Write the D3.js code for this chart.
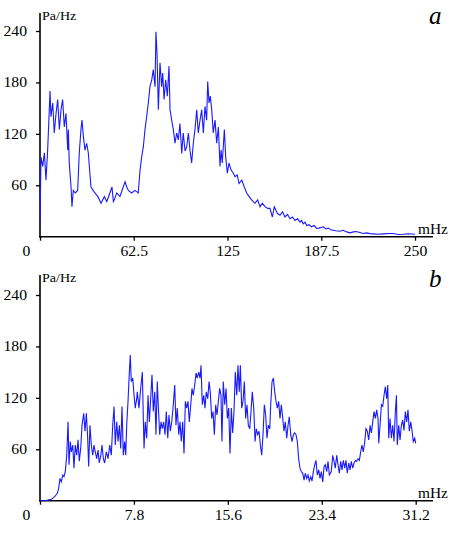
<!DOCTYPE html>
<html><head><meta charset="utf-8">
<script src="https://cdn.jsdelivr.net/npm/d3@7"></script>
<style>
html,body{margin:0;padding:0;background:#fff;}
svg{display:block;}
text{font-family:"Liberation Serif","Times New Roman",serif;fill:#000;}
</style></head>
<body><svg id="chart" width="454" height="533"></svg>
<script>
// ---- data ----
const yTicks = [60, 120, 180, 240];
const topTicksX = [0, 62.5, 125, 187.5, 250];
const botTicksX = [0, 7.8, 15.6, 23.4, 31.2];

const topFreq = [0,0.67,1.8,2.9,4,5.1,6.7,7.3,8.5,9.5,10.7,11.8,12.9,14,15.1,16.2,17.3,18.5,18.9,19.5,20.7,21.3,22.2,23.5,25.1,26.2,27.3,28,28.9,30,31.1,32.2,32.9,34,36.2,38.5,40.7,42.9,44.5,46.2,48,48.9,49.5,51.1,53.3,55.5,56.7,57.8,58.9,61.1,63.3,65.5,66.7,67.8,68.9,70,71.1,72.2,73.3,74.5,75.5,76.7,77.3,78,78.9,80,81.1,81.8,82.7,83.8,84.9,86,86.7,87.8,88.9,90,91.1,92.2,93.3,94.5,95.5,96.7,97.8,98.9,100,101.1,102.2,103.3,104.5,105.5,106.7,107.8,108.9,110,111.1,111.8,112.7,113.5,114.5,115.5,116.7,117.8,118.9,120,120.7,121.5,122.9,123.8,124.9,126,127.3,128.9,130,131.5,132.7,134.5,136.2,137.8,139.3,141.1,143.3,145.1,146.7,148.2,150,151.8,153.3,154.9,156.2,158.3,160,161.7,163.3,165,166.7,168.3,170,171.7,173.3,174.3,175.5,176.7,177.8,179.3,181.1,182.7,184.5,186,188.9,190.7,192.2,194,195.5,197.3,200,202,204.5,206.7,208.9,210.7,213.3,215.3,217.8,220,222.2,225.3,228.9,232,235.5,238.7,242.2,245.3,250];
const topPsd = [16,93,82,98,66,101,170,140,156,121,144,160,125,148,160,128,144,101,125,86,58,35,54,51,54,98,125,136,117,101,109,98,82,58,52,47,39,47,41,49,58,41,43,51,47,58,64,58,54,51,54,51,78,93,105,125,140,156,175,183,195,175,239,214,148,203,175,191,160,183,164,199,148,136,125,109,121,113,132,97,121,100,105,121,101,86,109,125,148,121,136,148,121,152,136,181,156,164,148,121,136,109,128,82,101,86,125,93,74,86,78,74,70,72,62,66,58,51,47,43,39,43,35,39,35,33,33,23,35,27,25,29,23,26,21,23,19,21,17,19,15,17,13,14,11.5,13,9.6,10,11.5,9,10,8,7.6,7,6.4,7.5,5.6,4.5,5.6,6,4.9,3.8,4.4,3.6,3.3,2.8,3.3,3.8,3.7,2.6,2.9,3.4,2.9];

const botFreq = [0,0.42,0.94,1.22,1.44,1.55,1.66,1.77,1.89,1.99,2.10,2.22,2.33,2.41,2.52,2.60,2.72,2.82,2.93,3.05,3.16,3.26,3.38,3.49,3.63,3.74,3.85,3.96,4.04,4.15,4.26,4.38,4.48,4.59,4.71,4.82,4.92,5.05,5.15,5.26,5.37,5.51,5.65,5.79,5.92,6.04,6.15,6.25,6.37,6.48,6.59,6.70,6.81,6.92,7.03,7.12,7.20,7.31,7.42,7.50,7.58,7.70,7.81,7.91,8.03,8.08,8.22,8.36,8.50,8.58,8.64,8.74,8.86,8.97,9.08,9.19,9.30,9.41,9.53,9.63,9.74,9.82,9.94,10.05,10.16,10.27,10.38,10.49,10.61,10.71,10.82,10.94,11.07,11.19,11.29,11.40,11.52,11.63,11.73,11.85,11.96,12.07,12.18,12.29,12.40,12.52,12.62,12.73,12.85,12.96,13.06,13.18,13.29,13.37,13.48,13.60,13.70,13.81,13.93,14.04,14.14,14.26,14.37,14.48,14.59,14.70,14.81,14.92,15.03,15.11,15.22,15.34,15.45,15.56,15.67,15.78,15.89,16.00,16.11,16.22,16.34,16.44,16.55,16.64,16.75,16.86,16.97,17.08,17.19,17.30,17.42,17.52,17.63,17.75,17.86,17.96,18.08,18.19,18.30,18.41,18.52,18.63,18.74,18.85,18.96,19.08,19.16,19.27,19.38,19.49,19.60,19.71,19.82,19.93,20.04,20.16,20.26,20.37,20.49,20.60,20.70,20.82,20.93,21.04,21.15,21.26,21.37,21.48,21.59,21.70,21.82,21.93,22.03,22.15,22.26,22.36,22.48,22.59,22.70,22.82,22.92,23.03,23.15,23.25,23.36,23.48,23.59,23.69,23.81,23.92,24.03,24.19,24.31,24.42,24.52,24.64,24.75,24.86,24.97,25.08,25.19,25.31,25.41,25.52,25.64,25.75,25.85,25.97,26.08,26.19,26.30,26.41,26.52,26.63,26.74,26.85,26.97,27.07,27.18,27.30,27.41,27.52,27.63,27.74,27.85,27.96,28.07,28.13,28.24,28.35,28.46,28.57,28.68,28.79,28.88,28.96,29.07,29.18,29.29,29.40,29.51,29.60,29.67,29.79,29.90,30.01,30.12,30.23,30.34,30.45,30.56,30.67,30.79,30.89,31.00,31.12,31.20];
const botPsd = [0,0,1.6,4.7,8.6,14.5,26,22,30,28,34,53,92,42,69,57,65,38,65,53,71,46,61,88,102,81,102,73,40,88,65,53,65,57,49,59,44,53,65,49,44,57,49,65,53,88,110,65,92,69,88,61,110,53,69,53,88,116,150,170,139,143,123,108,119,127,108,131,150,96,61,92,73,123,92,119,147,104,127,77,139,112,77,92,84,92,77,104,73,100,81,92,112,135,88,108,77,92,69,92,55,116,108,116,92,112,131,123,135,149,143,150,143,158,112,123,108,127,119,139,127,96,104,77,112,100,116,131,123,69,139,112,131,96,108,55,108,79,104,150,123,158,127,158,108,116,139,96,112,88,84,104,127,108,69,84,77,81,65,53,77,112,100,73,88,84,112,139,143,127,116,108,116,96,112,96,81,92,73,88,98,77,69,77,79,77,69,49,38,34,32,24,32,26,30,23,28,23,34,42,47,30,36,26,34,22,40,42,34,46,30,34,53,46,38,53,42,32,46,36,47,38,47,32,44,36,46,38,44,47,46,49,47,57,65,57,69,84,81,71,88,79,92,104,96,106,96,67,88,112,110,123,133,119,135,73,96,73,88,69,104,123,65,88,71,88,94,82,104,92,106,81,92,82,69,73,67];

// ---- drawing ----
const svg = d3.select("#chart");
const LINE = "#1a1aff";

function stretch(sel, k){
  sel.each(function(){
    const w = this.getComputedTextLength();
    d3.select(this).attr("textLength", w*k).attr("lengthAdjust","spacingAndGlyphs");
  });
}

function panel(cfg){
  const x = d3.scaleLinear().domain([0, cfg.xMax]).range([40, cfg.xEnd]);
  const y = d3.scaleLinear().domain([0, 240]).range([cfg.y0, cfg.y240]);
  const g = svg.append("g");

  // y axis
  const ya = g.append("g").attr("transform","translate(40,0)")
    .call(d3.axisLeft(y).tickValues(yTicks).tickSize(4).tickPadding(9).tickFormat(d3.format("d")));
  ya.select(".domain").remove();
  ya.selectAll(".tick line").attr("stroke","#000").attr("stroke-width",1.3);
  ya.selectAll("text").attr("font-size","14px").attr("fill","#000");
  stretch(ya.selectAll("text"), 1.12);

  // x axis
  const xa = g.append("g").attr("transform",`translate(0,${cfg.y0})`)
    .call(d3.axisBottom(x).tickValues(cfg.ticks).tickSize(4).tickPadding(5)
      .tickFormat(d => String(d)));
  xa.select(".domain").remove();
  xa.selectAll(".tick line").attr("stroke","#000").attr("stroke-width",1.3);
  xa.selectAll("text").attr("font-size","14px").attr("fill","#000");
  stretch(xa.selectAll("text"), 1.12);
  xa.selectAll(".tick").filter(d => d === 0).select("text").attr("x", -14);

  // axis lines
  g.append("line").attr("x1",40).attr("x2",40).attr("y1",cfg.yTop).attr("y2",cfg.y0+0.5)
    .attr("stroke","#000").attr("stroke-width",1.6);
  g.append("line").attr("x1",39).attr("x2",433).attr("y1",cfg.y0).attr("y2",cfg.y0)
    .attr("stroke","#000").attr("stroke-width",1.6);

  // data line
  const line = d3.line().x(d => x(d[0])).y(d => y(d[1]));
  g.append("path").datum(d3.zip(cfg.freq, cfg.psd))
    .attr("d", line).attr("fill","none").attr("stroke",LINE).attr("stroke-width",1.1);

  // labels
  const pa = g.append("text").attr("x",42).attr("y",cfg.yTop+7).attr("font-size","12.5px").text("Pa/Hz");
  stretch(pa, 1.12);
  const mh = g.append("text").attr("x",418).attr("y",cfg.y0-2.5).attr("font-size","14px").text("mHz");
  stretch(mh, 1.1);
  g.append("text").attr("x",429).attr("y",cfg.letterY).attr("font-size","25px")
    .attr("font-style","italic").text(cfg.letter);
}

panel({xMax:250, xEnd:415, y0:236.7, y240:31, yTop:13, ticks:topTicksX,
  freq:topFreq, psd:topPsd, letter:"a", letterY:24});
panel({xMax:31.2, xEnd:415.7, y0:500.7, y240:295, yTop:275, ticks:botTicksX,
  freq:botFreq, psd:botPsd, letter:"b", letterY:287});
</script></body></html>
